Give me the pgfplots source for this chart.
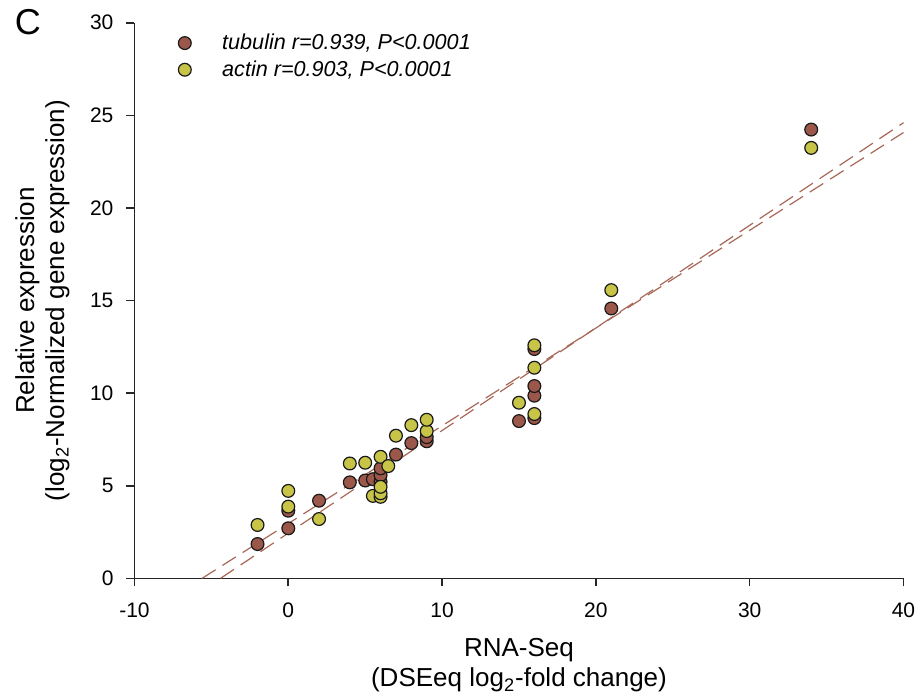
\documentclass[border=0pt]{standalone}
\usepackage{pgfplots}
\pgfplotsset{compat=1.18}
\usepackage{fontspec}
\setmainfont{Liberation Sans}

\definecolor{tubbrown}{RGB}{155,88,74}
\definecolor{actyellow}{RGB}{200,196,72}
\definecolor{fitline}{RGB}{168,104,88}

\begin{document}
\begin{tikzpicture}
\begin{axis}[
    name=ax, at={(0,0)}, anchor=south west,
    scale only axis,
    width=384.5pt, height=277.8pt,
    xmin=-10, xmax=40, ymin=0, ymax=30,
    xtick={-10,0,10,20,30,40},
    ytick={0,5,10,15,20,25,30},
    axis lines*=left,
    axis line style={-, line width=0.8pt, black!85},
    tick style={line width=0.8pt, black!85},
    tick align=outside,
    major tick length=4pt,
    /pgf/number format/assume math mode=true,
    ticklabel style={font=\fontsize{10.5}{12}\selectfont},
    xticklabel style={yshift=-4.5pt},
    yticklabel style={xshift=-3pt},
    xlabel={RNA-Seq\\(DSEeq log\textsubscript{2}-fold change)},
    xlabel style={font=\fontsize{13}{15}\selectfont, align=center,
        at={(axis description cs:0.5,-0.1566)}, anchor=center},
    ylabel={Relative expression\\(log\textsubscript{2}-Normalized gene expression)},
    ylabel style={font=\fontsize{13}{15}\selectfont, align=center,
        at={(axis description cs:-0.1196,0.5)}, anchor=center},
    legend style={draw=none, fill=none, inner sep=0pt,
        at={(axis description cs:0.0566,0.988)}, anchor=north west,
        font=\fontsize{10.8}{12}\selectfont\itshape,
        column sep=13.5pt, row sep=0pt},
    legend cell align=left,
    clip=false,
]
% regression lines
\addplot[fitline, line width=0.6pt, dash pattern=on 8pt off 4pt, forget plot]
    coordinates {(-5.6,0) (40,24.07)};
\addplot[fitline, line width=0.6pt, dash pattern=on 8pt off 4pt, forget plot]
    coordinates {(-4.4,0) (40,24.6)};

% tubulin
\addplot[only marks, mark=*, mark size=3.2pt,
    mark options={fill=tubbrown, draw=black!90, line width=0.6pt}]
    coordinates {
    (-2,1.85) (0,2.70) (0,3.65) (2,4.19) (4,5.18) (5,5.28) (5.5,5.35)
    (6,5.21) (6,5.57) (6,5.94) (7,6.68) (8,7.30) (9,7.40) (9,7.62)
    (15,8.49) (16,8.65) (16,9.86) (16,10.38) (16,12.38) (21,14.57) (34,24.23)
    };
\addlegendentry{tubulin r=0.939, P<0.0001}

% actin
\addplot[only marks, mark=*, mark size=3.2pt,
    mark options={fill=actyellow, draw=black!90, line width=0.6pt}]
    coordinates {
    (-2,2.88) (0,3.87) (0,4.72) (2,3.20) (4,6.20) (5,6.24) (5.5,4.45)
    (6,4.40) (6,4.59) (6,4.94) (6,6.56) (6.5,6.06) (7,7.70) (8,8.27)
    (9,7.95) (9,8.56) (15,9.48) (16,8.87) (16,11.37) (16,12.58)
    (21,15.56) (34,23.24)
    };
\addlegendentry{actin r=0.903, P<0.0001}
\end{axis}
\node[font=\fontsize{18}{20}\selectfont] at (-53.25pt,278.2pt) {C};
\pgfresetboundingbox
\useasboundingbox (-67.25pt,-59.35pt) rectangle (391.75pt,289.15pt);
\end{tikzpicture}
\end{document}
